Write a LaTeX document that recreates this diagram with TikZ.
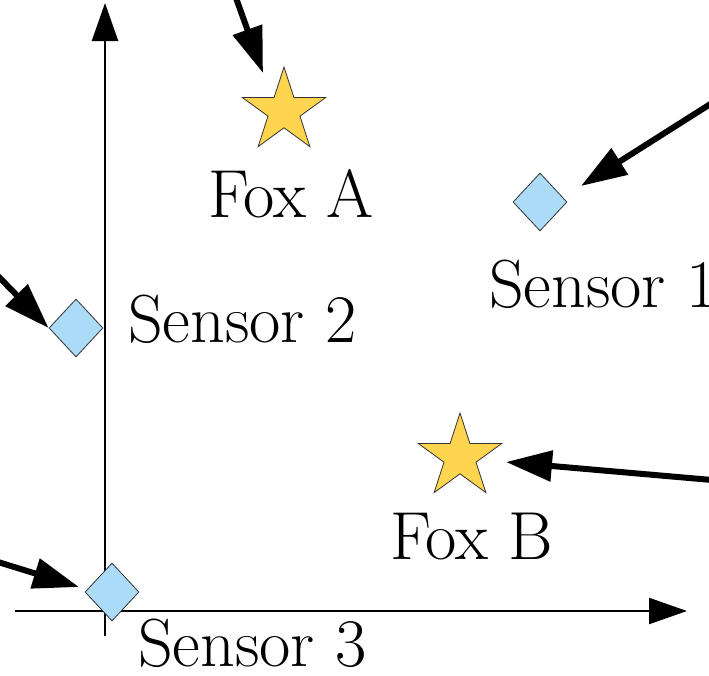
\documentclass[tikz,border=0pt]{standalone}
\usepackage{fontspec}
\definecolor{staryellow}{RGB}{255,213,79}
\definecolor{sensorblue}{RGB}{171,219,246}
\usetikzlibrary{shapes.geometric,arrows.meta}
\begin{document}
\begin{tikzpicture}[x=1pt,y=-1pt,
 fox/.style={star,star points=5,star point ratio=2.618,minimum size=88pt,inner sep=0pt,fill=staryellow,draw=black!80,line width=0.8pt},
 sensor/.style={diamond,minimum width=54pt,minimum height=58pt,inner sep=0pt,fill=sensorblue,draw=black!80,line width=0.8pt},
 lbl/.style={anchor=base west,inner sep=0pt,font=\rmfamily\fontsize{68}{80}\selectfont},
 axis/.style={line width=2.5pt,-{Triangle[length=38pt,width=26pt]}},
 pointer/.style={line width=6pt,-{Triangle[length=46pt,width=30pt]}}]
\useasboundingbox (0,0) rectangle (709,675);
% axes
\coordinate (xstart) at (15,611);
\coordinate (xend) at (687,611);
\coordinate (ystart) at (105,636);
\coordinate (yend) at (105,3);
\draw[axis] (xstart) -- (xend);
\draw[axis] (ystart) -- (yend);
% objects
\node[fox] (foxA) at (284,111) {};
\node[fox] (foxB) at (460,457) {};
\node[sensor] (s1) at (540,202) {};
\node[sensor] (s2) at (76,328) {};
\node[sensor] (s3) at (112,592) {};
% labels
\node[lbl] (lfoxA) at (208,217) {Fox A};
\node[lbl] (lfoxB) at (390,559) {Fox B};
\node[lbl] (ls1) at (489,307) {Sensor 1};
\node[lbl] (ls2) at (128,342) {Sensor 2};
\node[lbl] (ls3) at (138,666) {Sensor 3};
% pointers
\coordinate (eA) at (236,-2);
\coordinate (tA) at (263,73);
\coordinate (eB) at (712,480);
\coordinate (tB) at (506,462);
\coordinate (e1) at (712,103);
\coordinate (t1) at (581,186);
\coordinate (e2) at (-2,276);
\coordinate (e3) at (-2,562);
\coordinate (t3) at (79,587);
\draw[pointer] (eA) -- (tA);
\draw[pointer] (eB) -- (tB);
\draw[pointer] (e1) -- (t1);
\draw[pointer] (e2) -- (s2.west);
\draw[pointer] (e3) -- (t3);
\end{tikzpicture}
\end{document}
